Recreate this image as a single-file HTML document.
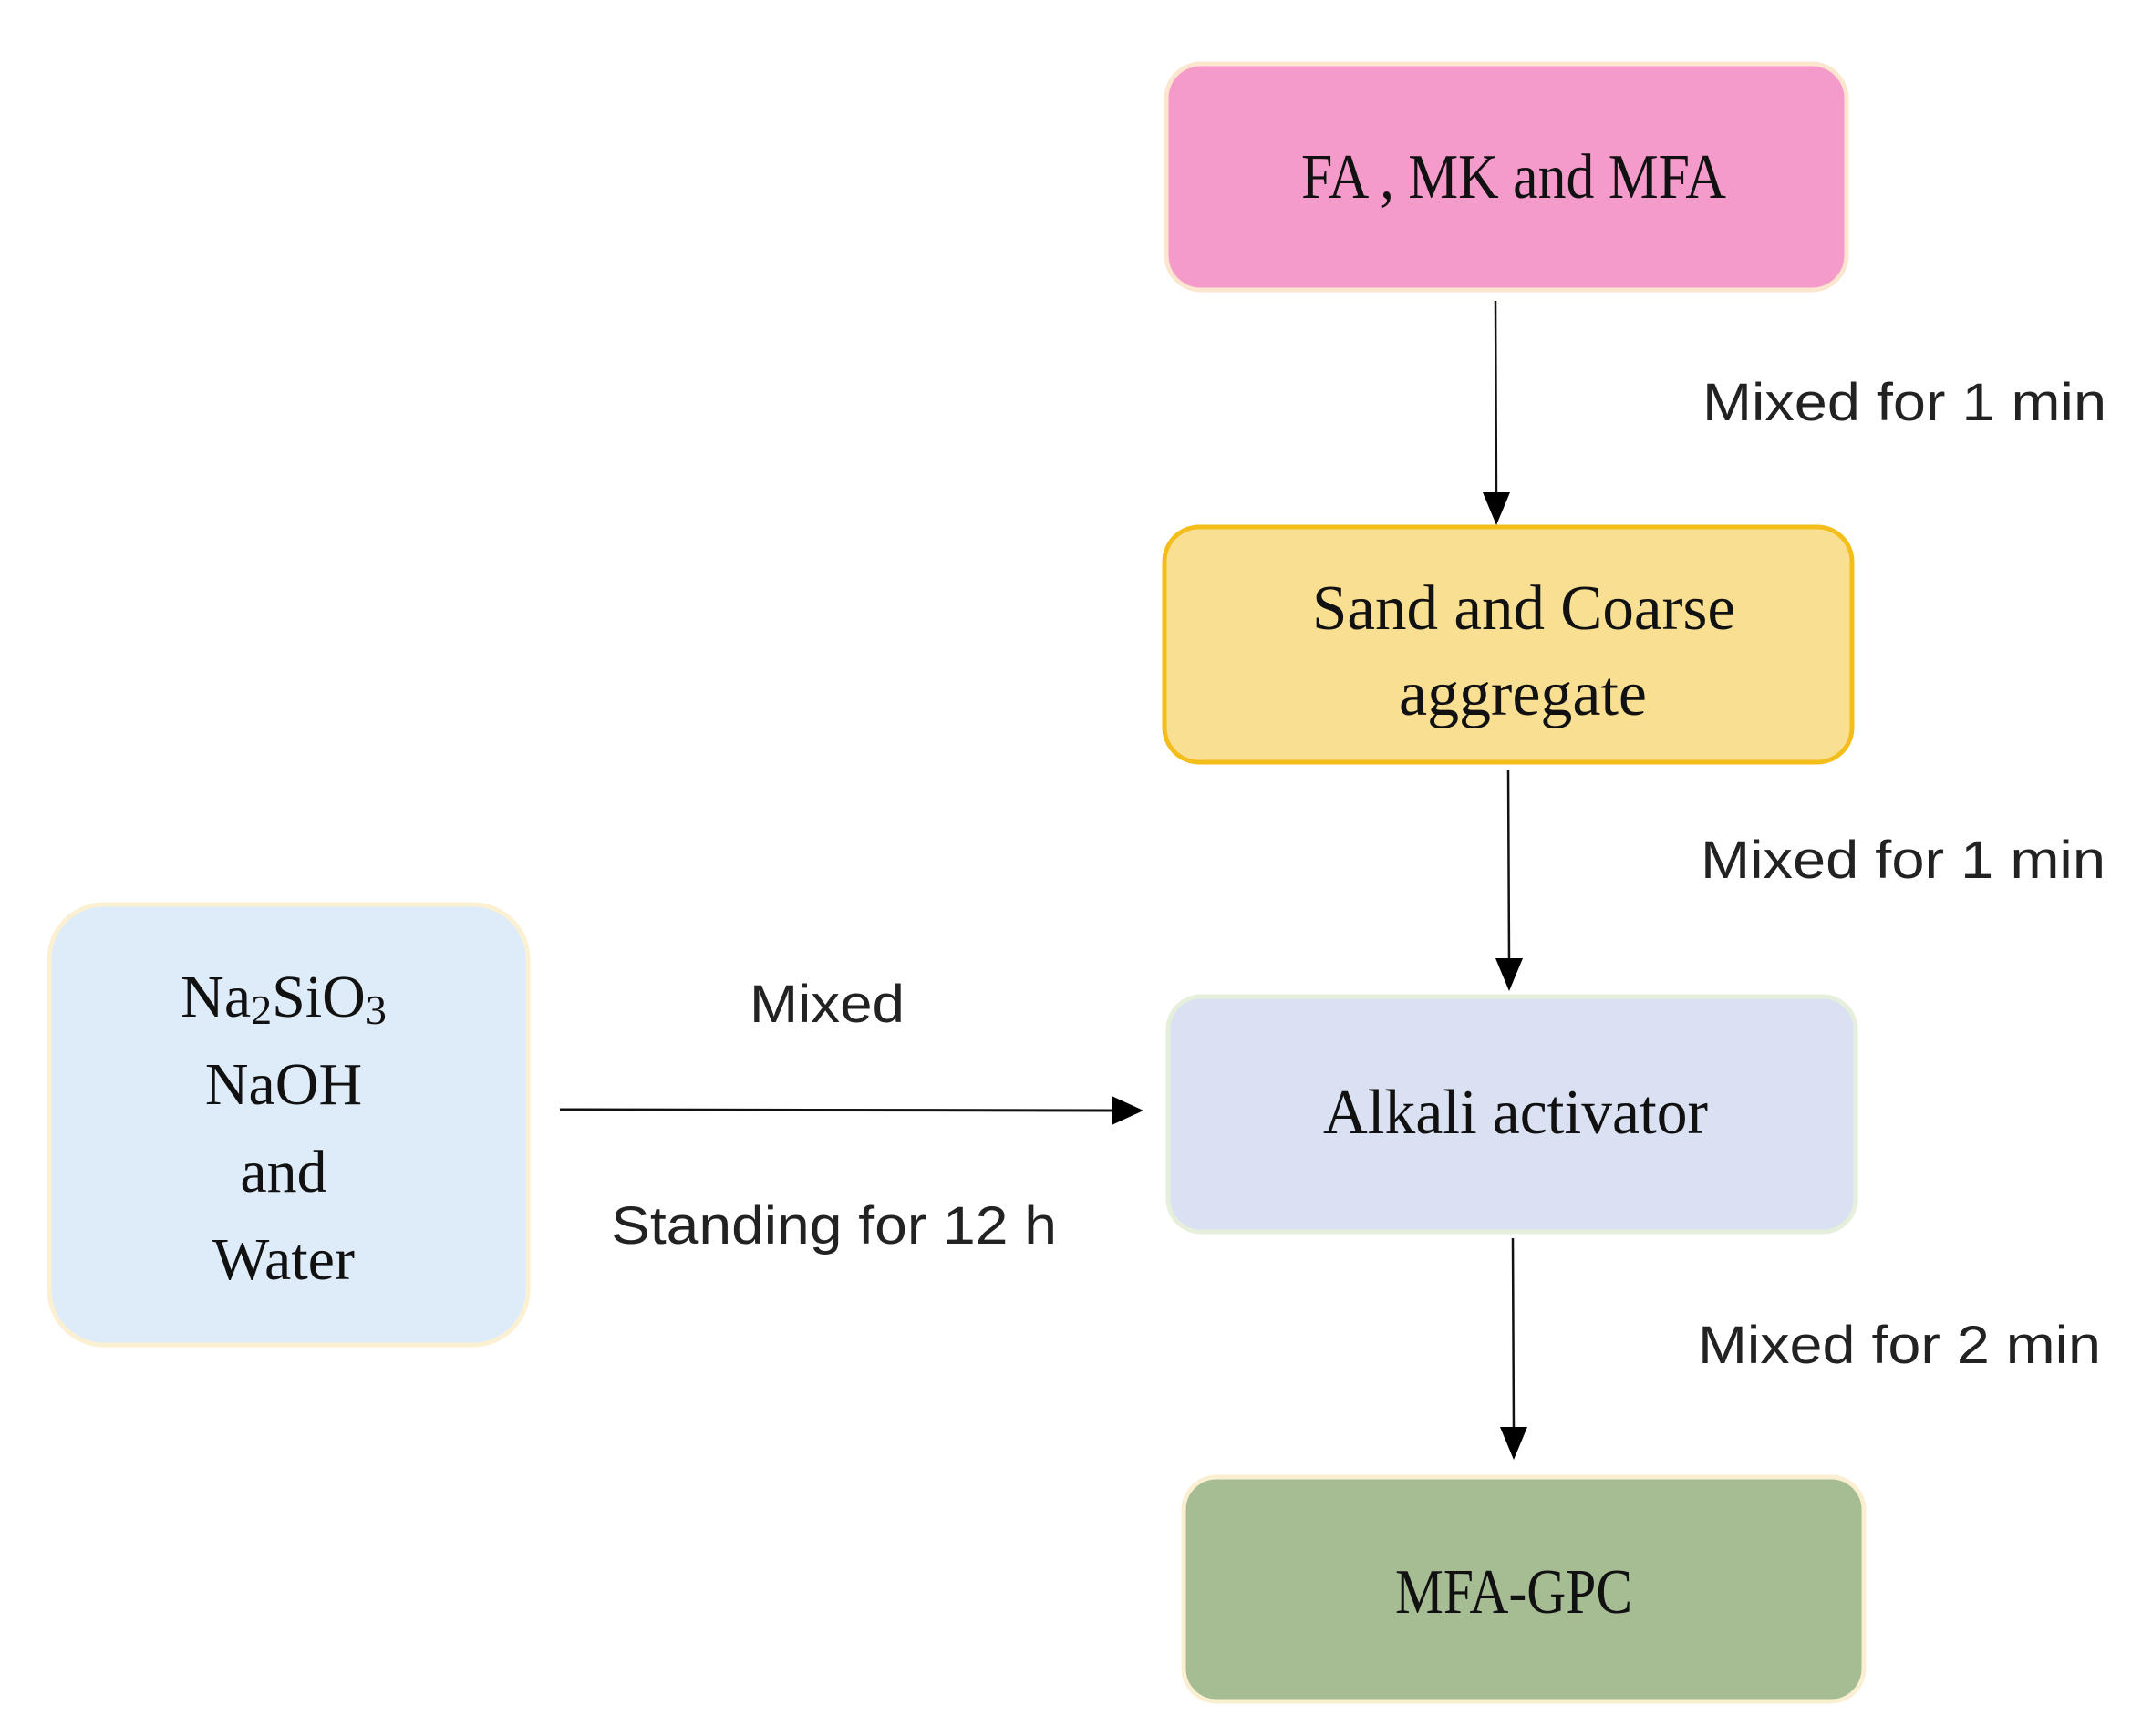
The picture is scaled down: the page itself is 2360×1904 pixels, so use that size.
<!DOCTYPE html>
<html><head><meta charset="utf-8"><style>
html,body{margin:0;padding:0;background:#fff;}
svg{display:block;}
.s{font-family:"Liberation Serif",serif;fill:#111;}
.a{font-family:"Liberation Sans",sans-serif;fill:#222;}
</style></head><body>
<svg width="2360" height="1904" viewBox="0 0 2360 1904" xmlns="http://www.w3.org/2000/svg">
<g transform="translate(-6,-2)">
<rect x="1285" y="72" width="746" height="248" rx="38" fill="#F49BCB" stroke="#FCE6CF" stroke-width="5"/>
<rect x="1283" y="580" width="754" height="258" rx="38" fill="#F8DF91" stroke="#F4BE1A" stroke-width="5"/>
<rect x="1287" y="1095" width="754" height="258" rx="36" fill="#D9E1F3" stroke="#E6EFDC" stroke-width="5"/>
<rect x="1304" y="1622" width="746" height="246" rx="36" fill="#A6BD94" stroke="#FBEFD2" stroke-width="5"/>
<text class="s" x="1433" y="219" font-size="70" textLength="466" lengthAdjust="spacingAndGlyphs">FA , MK and MFA</text>
<text class="s" x="1445" y="692" font-size="70" textLength="464" lengthAdjust="spacingAndGlyphs">Sand and Coarse</text>
<text class="s" x="1540" y="786" font-size="70" textLength="272" lengthAdjust="spacingAndGlyphs">aggregate</text>
<text class="s" x="1457" y="1245" font-size="70" textLength="422" lengthAdjust="spacingAndGlyphs">Alkali activator</text>
<text class="s" x="1536" y="1771" font-size="70" textLength="260" lengthAdjust="spacingAndGlyphs">MFA-GPC</text>
<text class="a" x="1873" y="463" font-size="58" textLength="443" lengthAdjust="spacingAndGlyphs">Mixed for 1 min</text>
<text class="a" x="1871" y="965" font-size="58" textLength="444" lengthAdjust="spacingAndGlyphs">Mixed for 1 min</text>
<text class="a" x="1868" y="1497" font-size="58" textLength="442" lengthAdjust="spacingAndGlyphs">Mixed for 2 min</text>
<g stroke="#111" stroke-width="2.5">
<line x1="1646" y1="332" x2="1647" y2="545"/>
<line x1="1660" y1="846" x2="1661" y2="1056"/>
<line x1="1665" y1="1360" x2="1666" y2="1570"/>
</g>
<g fill="#000">
<polygon points="1632,542 1662,542 1647,578"/>
<polygon points="1646,1053 1676,1053 1661,1089"/>
<polygon points="1651,1567 1681,1567 1666,1603"/>
</g>
</g>
<g transform="translate(-3,-3)">
<rect x="57" y="995" width="525" height="483" rx="60" fill="#DEEBF8" stroke="#FBF1D2" stroke-width="5"/>
<text class="s" x="314" y="1118" font-size="66" text-anchor="middle">Na<tspan font-size="46" dy="8">2</tspan><tspan dy="-8">SiO</tspan><tspan font-size="46" dy="8">3</tspan></text>
<text class="s" x="314" y="1214" font-size="66" text-anchor="middle">NaOH</text>
<text class="s" x="314" y="1310" font-size="66" text-anchor="middle">and</text>
<text class="s" x="314" y="1406" font-size="66" text-anchor="middle">Water</text>
<text class="a" x="825" y="1124" font-size="58" textLength="170" lengthAdjust="spacingAndGlyphs">Mixed</text>
<text class="a" x="673" y="1367" font-size="58" textLength="489" lengthAdjust="spacingAndGlyphs">Standing for 12 h</text>
<line x1="617" y1="1220" x2="1225" y2="1221" stroke="#111" stroke-width="3"/>
<polygon points="1222,1205 1222,1237 1257,1221" fill="#000"/>
</g>
</svg>
</body></html>
